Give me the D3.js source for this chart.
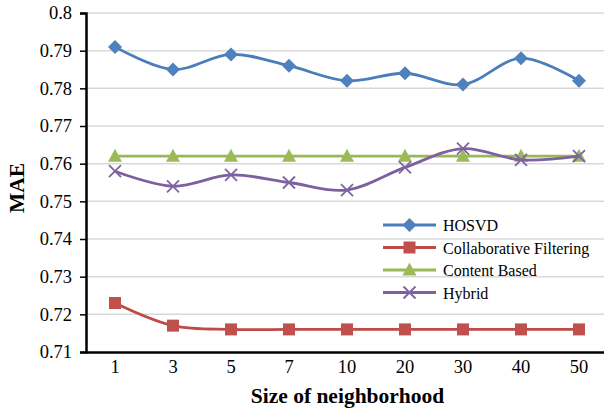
<!DOCTYPE html>
<html>
<head>
<meta charset="utf-8">
<script src="https://cdn.jsdelivr.net/npm/d3@7"></script>
<style>
  html, body { margin: 0; padding: 0; background: #fff; }
  svg { display: block; }
  text { font-family: "Liberation Serif", "Times New Roman", serif; fill: #000; }
</style>
</head>
<body>
<svg id="chart" width="604" height="412"></svg>
<script>
// Neighborhood sizes on the x axis
const sizes = ["1", "3", "5", "7", "10", "20", "30", "40", "50"];

// MAE for each method
const hosvd = [0.791, 0.785, 0.789, 0.786, 0.782, 0.784, 0.781, 0.788, 0.782];
const collaborative = [0.723, 0.717, 0.716, 0.716, 0.716, 0.716, 0.716, 0.716, 0.716];
const contentBased = [0.762, 0.762, 0.762, 0.762, 0.762, 0.762, 0.762, 0.762, 0.762];
const hybrid = [0.758, 0.754, 0.757, 0.755, 0.753, 0.759, 0.764, 0.761, 0.762];

const yTicks = [0.71, 0.72, 0.73, 0.74, 0.75, 0.76, 0.77, 0.78, 0.79, 0.8];
const seriesNames = ["HOSVD", "Collaborative Filtering", "Content Based", "Hybrid"];

const series = [
  { name: seriesNames[0], values: hosvd, line: "#4A7EBB", fill: "#4F81BD", marker: "diamond" },
  { name: seriesNames[1], values: collaborative, line: "#BE4B48", fill: "#C0504D", marker: "square" },
  { name: seriesNames[2], values: contentBased, line: "#98B954", fill: "#9BBB59", marker: "triangle" },
  { name: seriesNames[3], values: hybrid, line: "#7D60A0", fill: "#8064A2", marker: "cross" }
];

const svg = d3.select("#chart");
const plotLeft = 86, plotTop = 13, plotRight = 608, plotBottom = 352;

const x = d3.scaleBand().domain(sizes).range([plotLeft, plotRight]).padding(0);
const y = d3.scaleLinear().domain([0.71, 0.8]).range([plotBottom, plotTop]);
const cx = s => x(s) + x.bandwidth() / 2;

// Horizontal gridlines
svg.append("g")
  .selectAll("line")
  .data(yTicks.slice(1))
  .join("line")
  .attr("x1", plotLeft).attr("x2", plotRight)
  .attr("y1", d => y(d)).attr("y2", d => y(d))
  .attr("stroke", "#D9D9D9").attr("stroke-width", 1.5);

// Y axis
const yAxis = svg.append("g")
  .attr("transform", `translate(${plotLeft},0)`)
  .call(d3.axisLeft(y).tickValues(yTicks).tickSize(6).tickPadding(8)
    .tickFormat(d => d3.format("")(+d.toFixed(2))));
yAxis.select(".domain").attr("stroke", "#000").attr("stroke-width", 2.5);
yAxis.selectAll(".tick line").attr("stroke", "#000").attr("stroke-width", 1.5);
yAxis.selectAll(".tick text")
  .attr("font-family", "Liberation Serif, serif").attr("font-size", 18.5).attr("fill", "#000");

// X axis
const xAxis = svg.append("g")
  .attr("transform", `translate(0,${plotBottom})`)
  .call(d3.axisBottom(x).tickSize(0).tickPadding(8));
xAxis.select(".domain").attr("stroke", "#000").attr("stroke-width", 2.5);
xAxis.selectAll(".tick text")
  .attr("font-family", "Liberation Serif, serif").attr("font-size", 18.5).attr("fill", "#000");

// Axis titles
svg.append("text")
  .attr("x", 347.5).attr("y", 403)
  .attr("text-anchor", "middle")
  .attr("font-weight", "bold").attr("font-size", 21.5)
  .text("Size of neighborhood");

svg.append("text")
  .attr("transform", "translate(23.5,188) rotate(-90)")
  .attr("text-anchor", "middle")
  .attr("font-weight", "bold").attr("font-size", 21.5)
  .text("MAE");

// Marker shapes
function drawMarker(g, type, fill, stroke, px, py) {
  if (type === "diamond") {
    g.append("path")
      .attr("d", d3.symbol(d3.symbolSquare, 98)())
      .attr("transform", `translate(${px},${py}) rotate(45)`)
      .attr("fill", fill);
  } else if (type === "square") {
    g.append("rect")
      .attr("x", px - 6).attr("y", py - 6).attr("width", 12).attr("height", 12)
      .attr("fill", fill);
  } else if (type === "triangle") {
    g.append("path")
      .attr("d", `M${px},${py - 7.5}L${px + 7},${py + 5.5}L${px - 7},${py + 5.5}Z`)
      .attr("fill", fill);
  } else {
    g.append("path")
      .attr("d", `M${px - 6},${py - 6}L${px + 6},${py + 6}M${px - 6},${py + 6}L${px + 6},${py - 6}`)
      .attr("stroke", stroke).attr("stroke-width", 1.8).attr("fill", "none");
  }
}

const line = d3.line()
  .x((d, i) => cx(sizes[i]))
  .y(d => y(d))
  .curve(d3.curveCatmullRom.alpha(0.5));

const plot = svg.append("g");
series.forEach(s => {
  const g = plot.append("g");
  g.append("path")
    .attr("d", line(s.values))
    .attr("fill", "none")
    .attr("stroke", s.line)
    .attr("stroke-width", 2.8)
    .attr("stroke-linecap", "round");
  s.values.forEach((v, i) => drawMarker(g, s.marker, s.fill, s.fill, cx(sizes[i]), y(v)));
});

// Legend
const legend = svg.append("g");
series.forEach((s, i) => {
  const ly = 225 + i * 22.5;
  const g = legend.append("g");
  g.append("line")
    .attr("x1", 383).attr("x2", 436).attr("y1", ly).attr("y2", ly)
    .attr("stroke", s.line).attr("stroke-width", 2.8);
  drawMarker(g, s.marker, s.fill, s.fill, 409.5, ly);
  g.append("text")
    .attr("x", 443).attr("y", ly + 6)
    .attr("font-size", 16)
    .text(s.name);
});
</script>
</body>
</html>
